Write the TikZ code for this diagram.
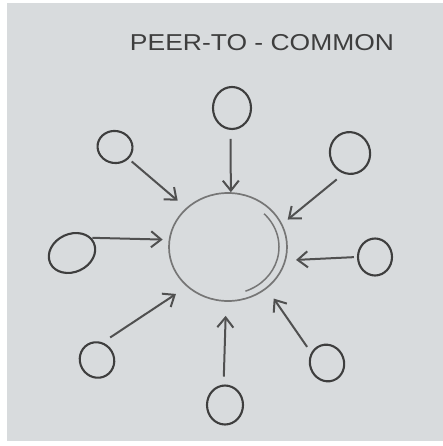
\documentclass[tikz,border=0pt]{standalone}
\usepackage{fontspec}
\setmainfont{Liberation Sans}
\usetikzlibrary{shapes.geometric,arrows.meta}
\definecolor{paper}{RGB}{216,219,221}
\definecolor{pencil}{RGB}{62,62,62}
\definecolor{arrowc}{RGB}{80,80,80}
\definecolor{hubc}{RGB}{118,118,118}
\tikzset{
  peer/.style={ellipse, draw=pencil, line width=2.1pt, inner sep=0pt},
  hubnode/.style={ellipse, draw=hubc, line width=1.7pt, inner sep=0pt, minimum width=118pt, minimum height=108pt},
  feed/.style={draw=arrowc, line width=2pt, -{Straight Barb[length=10pt,width=16pt,line width=2pt]}},
  titletext/.style={text=pencil, font=\fontsize{23}{26}\selectfont}
}
\begin{document}
\begin{tikzpicture}[x=1pt,y=1pt]
\useasboundingbox (0,0) rectangle (443,-446);
\fill[white] (0,0) rectangle (443,-446);
\fill[paper] (7,-3) rectangle (443,-441);
\node[titletext, xscale=1.15] (title) at (262,-43) {PEER-TO - COMMON};
\node[hubnode] (hub) at (228,-247) {};
\draw[hubc, line width=1.5pt] ([shift={(45:51pt and 47pt)}]hub.center) arc[start angle=45, end angle=-70, x radius=51pt, y radius=47pt];
\node[peer, minimum width=38pt, minimum height=42pt] (t) at (232,-108) {};
\node[peer, minimum width=35pt, minimum height=32pt, rotate=-10] (ul) at (115,-147) {};
\node[peer, minimum width=40pt, minimum height=42pt, rotate=20] (ur) at (350,-153) {};
\node[peer, minimum width=48pt, minimum height=38pt, rotate=25] (l) at (72,-253) {};
\node[peer, minimum width=34pt, minimum height=37pt] (r) at (375,-257) {};
\node[peer, minimum width=34pt, minimum height=36pt, rotate=30] (ll) at (97,-360) {};
\node[peer, minimum width=36pt, minimum height=39pt] (b) at (225,-405) {};
\node[peer, minimum width=34pt, minimum height=37pt, rotate=20] (lr) at (327,-363) {};
\draw[feed, shorten <=9pt] (t.-94) -- (hub.87);
\draw[feed, shorten <=4pt, shorten >=11pt] (ul.-31) -- (hub.137);
\draw[feed, shorten <=9pt, shorten >=7pt] (ur.-127) -- (hub.23);
\draw[feed, shorten <=1pt, shorten >=6pt] (l.13) -- (hub.173);
\draw[feed, shorten <=3pt, shorten >=10pt] (r.180) -- (hub.-13);
\draw[feed, shorten <=9pt, shorten >=13pt] (ll.42) -- (hub.-136);
\draw[feed, shorten <=8pt, shorten >=14pt] (b.94) -- (hub.-92);
\draw[feed, shorten <=7pt, shorten >=12pt] (lr.127) -- (hub.-47);
\end{tikzpicture}
\end{document}
